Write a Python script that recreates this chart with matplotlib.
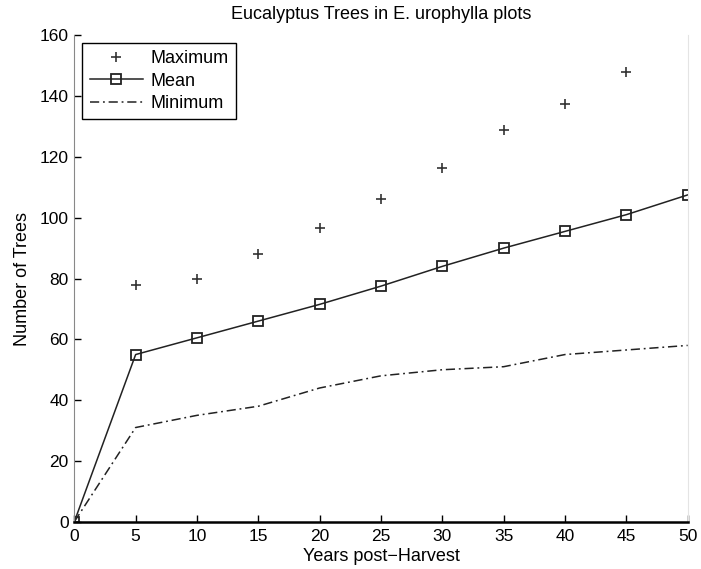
import matplotlib
matplotlib.use("Agg")
import matplotlib.pyplot as plt

years = [0, 5, 10, 15, 20, 25, 30, 35, 40, 45, 50]
max_years = [0, 5, 10, 15, 20, 25, 30, 35, 40, 45]
maximum = [0, 78, 80, 88, 96.5, 106, 116.5, 129, 137.5, 148]
mean = [0, 55, 60.5, 66, 71.5, 77.5, 84, 90, 95.5, 101, 107.5]
minimum = [0, 31, 35, 38, 44, 48, 50, 51, 55, 56.5, 58]

plt.rcParams["font.family"] = ["Liberation Sans", "DejaVu Sans"]
plt.rcParams["font.size"] = 12

fig = plt.figure(figsize=(7.01, 5.69), dpi=100)
ax = fig.add_axes([0.106, 0.083, 0.875, 0.855])

ax.plot(max_years, maximum, linestyle="none", marker="+", markersize=7.5,
        markeredgewidth=1.2, color="#333333", label="Maximum")
ax.plot(years, mean, linestyle="-", marker="s", markersize=6.5,
        markerfacecolor="none", markeredgewidth=1.3, linewidth=1.1,
        color="#222222", label="Mean")
ax.plot(years, minimum, linestyle=(0, (6, 2.5, 1.2, 2.5)), linewidth=1.1,
        color="#222222", label="Minimum")

ax.set_xlim(0, 50)
ax.set_ylim(0, 160)
ax.set_xticks(range(0, 51, 5))
ax.set_yticks(range(0, 161, 20))
ax.tick_params(direction="in", length=5, width=1, colors="black",
               labelsize=12.5)
ax.tick_params(axis="x", pad=5)
ax.tick_params(axis="y", pad=4)

ax.spines["left"].set_color("#888888")
ax.spines["bottom"].set_color("black")
ax.spines["bottom"].set_linewidth(1.8)
ax.spines["right"].set_color("#e4e4e4")
ax.spines["top"].set_visible(False)

ax.set_title("Eucalyptus Trees in E. urophylla plots", fontsize=13, pad=12)
ax.set_xlabel("Years post\u2212Harvest", fontsize=13, labelpad=3)
ax.set_ylabel("Number of Trees", fontsize=13, labelpad=6)

leg = ax.legend(loc="upper left", bbox_to_anchor=(0.013, 0.984),
                fancybox=False, edgecolor="black", framealpha=1,
                fontsize=13, handlelength=2.95, handletextpad=0.45,
                borderpad=0.4, labelspacing=0.3, borderaxespad=0)
leg.get_frame().set_linewidth(1.0)

fig.savefig("out.png", dpi=100)
